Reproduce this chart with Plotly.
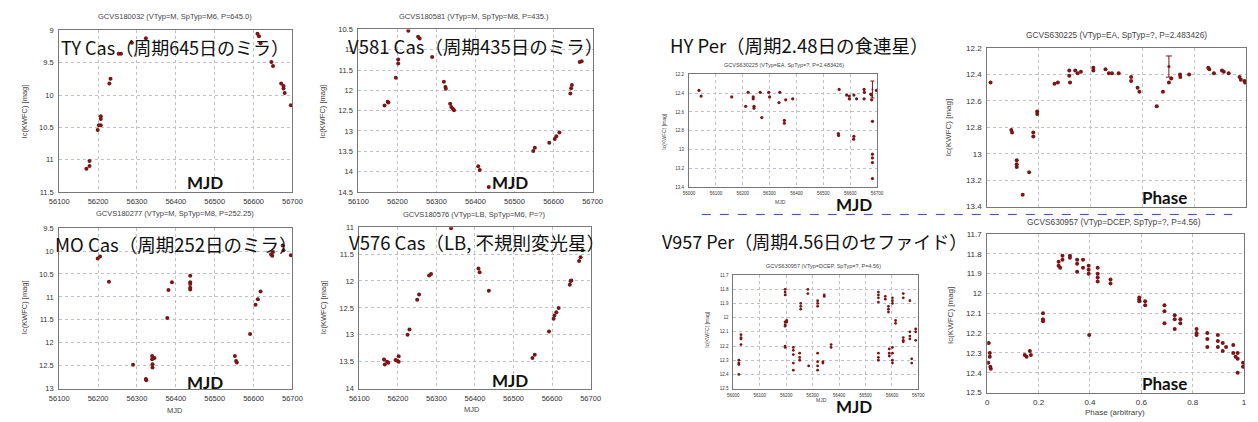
import plotly.graph_objects as go

W, H = 1258, 422

# ---------------- data ----------------
ty_cas_mjd = [56170, 56178, 56178, 56199, 56202, 56207, 56207, 56207, 56229, 56232, 56253, 56259,
              56287, 56323, 56610, 56614, 56618, 56646, 56650, 56671, 56677, 56677, 56680, 56696]
ty_cas_mag = [11.14, 11.02, 11.10, 10.54, 10.47, 10.47, 10.33, 10.37, 9.82, 9.75, 9.36, 9.36,
              9.19, 9.12, 9.05, 9.09, 9.20, 9.49, 9.55, 9.82, 9.86, 9.90, 9.97, 10.16]

v581_mjd = [56167, 56175, 56177, 56196, 56202, 56202, 56228, 56253, 56257, 56289, 56319, 56323, 56324,
            56335, 56338, 56342, 56345, 56407, 56411, 56434, 56548, 56552, 56589, 56603, 56607, 56615,
            56643, 56645, 56647, 56667, 56672]
v581_mag = [12.37, 12.28, 12.30, 11.69, 11.24, 11.34, 10.53, 10.68, 10.72, 11.18, 11.79, 11.92, 11.96,
            12.33, 12.41, 12.45, 12.49, 13.87, 13.96, 14.38, 13.49, 13.41, 13.29, 13.20, 13.13, 13.04,
            12.08, 11.95, 11.87, 11.30, 11.28]

mo_cas_mjd = [56199, 56205, 56228, 56290, 56323, 56324, 56339, 56339, 56340, 56340, 56345, 56378, 56381,
              56390, 56437, 56437, 56437, 56437, 56437, 56552, 56555, 56557, 56591, 56605, 56611, 56618,
              56645, 56648, 56650, 56675, 56677, 56696]
mo_cas_mag = [10.16, 10.12, 10.67, 12.48, 12.79, 12.82, 12.29, 12.36, 12.47, 12.54, 12.33, 11.46, 10.85,
              10.68, 10.54, 10.68, 10.72, 10.80, 10.84, 12.29, 12.40, 12.43, 11.81, 11.17, 11.05, 10.88,
              10.07, 10.10, 10.02, 9.88, 9.98, 10.09]

v576_mjd = [56164, 56166, 56172, 56175, 56194, 56198, 56202, 56202, 56225, 56230, 56250, 56255, 56281,
            56286, 56338, 56409, 56412, 56436, 56549, 56555, 56592, 56604, 56606, 56611, 56617, 56646,
            56648, 56650, 56670, 56674, 56679]
v576_mag = [13.46, 13.55, 13.50, 13.52, 13.47, 13.48, 13.40, 13.50, 13.00, 12.90, 12.35, 12.25, 11.90,
            11.87, 11.02, 11.77, 11.84, 12.18, 13.43, 13.37, 12.94, 12.70, 12.64, 12.58, 12.50, 12.07,
            12.00, 11.99, 11.63, 11.56, 11.43]

hy_per_mjd = [56037, 56045, 56159, 56211, 56220, 56239, 56239, 56242, 56242, 56265, 56271, 56297, 56300,
              56335, 56338, 56355, 56355, 56360, 56386, 56559, 56556, 56557, 56587, 56597, 56597, 56614,
              56614, 56613, 56624, 56652, 56653, 56652, 56677, 56680, 56680, 56683, 56683, 56683, 56683,
              56683, 56698]
hy_per_mag = [12.37, 12.43, 12.44, 12.54, 12.39, 12.44, 12.46, 12.54, 12.56, 12.39, 12.66, 12.39, 12.44,
              12.50, 12.39, 12.69, 12.72, 12.47, 12.46, 12.36, 12.83, 12.85, 12.42, 12.43, 12.46, 12.42,
              12.86, 12.89, 12.46, 12.36, 12.39, 12.46, 12.41, 12.42, 12.47, 12.70, 13.05, 13.09, 13.14,
              13.31, 12.37]
hy_per_err_mjd = [56683]
hy_per_err_mag = [12.36]
hy_per_err_val = [0.09]

hy_per_phase = [0.013, 0.093, 0.096, 0.114, 0.114, 0.114, 0.137, 0.162, 0.178, 0.178, 0.193, 0.193,
                0.260, 0.273, 0.317, 0.317, 0.320, 0.340, 0.349, 0.362, 0.410, 0.410, 0.457, 0.470,
                0.482, 0.508, 0.556, 0.556, 0.581, 0.588, 0.655, 0.679, 0.702, 0.711, 0.745, 0.746,
                0.780, 0.854, 0.858, 0.876, 0.907, 0.914, 0.933, 0.975, 0.980, 0.994, 0.996]
hy_per_phase_mag = [12.46, 12.82, 12.84, 13.05, 13.08, 13.10, 13.31, 13.14, 12.84, 12.87, 12.70, 12.68,
                    12.47, 12.46, 12.37, 12.41, 12.46, 12.37, 12.39, 12.38, 12.35, 12.37, 12.36, 12.39,
                    12.39, 12.39, 12.42, 12.45, 12.50, 12.53, 12.64, 12.53, 12.46, 12.43, 12.40, 12.42,
                    12.40, 12.35, 12.36, 12.39, 12.37, 12.38, 12.39, 12.42, 12.44, 12.45, 12.46]
hy_per_phase_err_x = [0.702]
hy_per_phase_err_mag = [12.34]
hy_per_phase_err_val = [0.08]

v957_mjd = [56021, 56021, 56021, 56021, 56029, 56029, 56029, 56029,
            56196, 56196, 56196, 56196, 56196, 56196, 56196, 56196, 56202, 56202,
            56227, 56227, 56227, 56227, 56227, 56251, 56251, 56251, 56255, 56255, 56255,
            56282, 56282, 56285, 56319, 56319, 56319, 56319, 56319, 56319, 56319,
            56339, 56339, 56344, 56344, 56370, 56370,
            56549, 56549, 56549, 56549, 56549, 56549, 56549, 56575, 56575, 56587, 56587, 56587,
            56590, 56590, 56590, 56602, 56602, 56602, 56602, 56602, 56602, 56602, 56614, 56614,
            56643, 56643, 56643, 56643, 56643, 56668, 56668, 56668, 56668, 56675, 56675,
            56690, 56690, 56690]
v957_mag = [12.30, 12.32, 12.33, 12.40, 12.12, 12.14, 12.15, 12.19,
            11.80, 11.82, 11.84, 12.03, 12.05, 12.06, 12.20, 12.21, 12.02, 12.03,
            12.21, 12.23, 12.26, 12.32, 12.37, 12.25, 12.28, 12.30, 11.90, 11.92, 11.94,
            11.80, 11.83, 12.34, 11.88, 11.90, 11.92, 12.25, 12.31, 12.34, 12.37,
            12.31, 12.32, 11.84, 11.85, 12.19, 12.21,
            11.82, 11.84, 11.86, 11.89, 12.25, 12.28, 12.30, 11.85, 11.87, 11.92, 11.94, 11.96,
            12.22, 12.25, 12.27, 11.86, 11.88, 11.90, 12.21, 12.25, 12.30, 12.32, 12.02, 12.04,
            11.83, 11.86, 12.14, 12.16, 12.17, 11.88, 12.10, 12.13, 12.15, 12.29, 12.32,
            12.08, 12.10, 12.16]

v957_phase = [0.004, 0.006, 0.010, 0.010, 0.012, 0.014, 0.146, 0.153, 0.166, 0.170,
              0.217, 0.217, 0.217, 0.278, 0.278, 0.284, 0.293, 0.293, 0.322, 0.322,
              0.350, 0.350, 0.350, 0.373, 0.373, 0.395, 0.395, 0.395, 0.397,
              0.430, 0.430, 0.430, 0.430, 0.480, 0.480, 0.592, 0.592, 0.592, 0.615, 0.615,
              0.690, 0.690, 0.690, 0.730, 0.730, 0.730, 0.752, 0.752, 0.815, 0.815, 0.815,
              0.857, 0.857, 0.857, 0.898, 0.898, 0.898, 0.917, 0.917, 0.930,
              0.958, 0.958, 0.967, 0.975, 0.975, 0.975, 0.996, 0.996]
v957_phase_mag = [12.35, 12.25, 12.30, 12.32, 12.37, 12.38, 12.31, 12.32, 12.29, 12.31,
                  12.10, 12.13, 12.14, 11.84, 11.86, 11.87, 11.83, 11.81, 11.81, 11.82,
                  11.83, 11.85, 11.89, 11.83, 11.87, 11.86, 11.88, 11.90, 12.21,
                  11.87, 11.90, 11.92, 11.94, 11.93, 11.95, 12.02, 12.03, 12.04, 12.04, 12.06,
                  12.06, 12.09, 12.15, 12.11, 12.13, 12.18, 12.13, 12.15, 12.18, 12.20, 12.21,
                  12.20, 12.23, 12.27, 12.21, 12.24, 12.27, 12.25, 12.29, 12.27,
                  12.26, 12.30, 12.32, 12.30, 12.33, 12.40, 12.35, 12.37]

titles = ["GCVS180032 (VTyp=M, SpTyp=M6, P=645.0)",
          "GCVS180581 (VTyp=M, SpTyp=M8, P=435.)",
          "GCVS180277 (VTyp=M, SpTyp=M8, P=252.25)",
          "GCVS180576 (VTyp=LB, SpTyp=M6, P=?)",
          "GCVS630225 (VTyp=EA, SpTyp=?, P=2.483426)",
          "GCVS630225 (VTyp=EA, SpTyp=?, P=2.483426)",
          "GCVS630957 (VTyp=DCEP, SpTyp=?, P=4.56)",
          "GCVS630957 (VTyp=DCEP, SpTyp=?, P=4.56)"]
labels_jp = ["TY Cas（周期645日のミラ）", "V581 Cas（周期435日のミラ）",
             "MO Cas（周期252日のミラ）", "V576 Cas（LB, 不規則変光星）",
             "HY Per（周期2.48日の食連星）", "V957 Per（周期4.56日のセファイド）"]
ylabel = "Ic(KWFC) [mag]"

# ---------------- figure ----------------
RED = "#7a1616"
GRID = "#c0c0c8"
TICK = "#333333"
FONT = "Liberation Sans"
JP = "Noto Sans CJK JP"

fig = go.Figure()

def px_x(a, b):
    return [a / W, b / W]

def px_y(top, bottom):
    return [1 - bottom / H, 1 - top / H]

panels = [
    (ty_cas_mjd, ty_cas_mag, (50, 287, 27, 192), [56100, 56700], [11.5, 9], 100, 0.5, 7.5, 4, True),
    (v581_mjd, v581_mag, (354, 592, 26, 192), [56100, 56700], [14.5, 10.5], 100, 0.5, 7.5, 4, True),
    (mo_cas_mjd, mo_cas_mag, (50, 287, 229, 393), [56100, 56700], [13, 9.5], 100, 0.5, 7.5, 4, True),
    (v576_mjd, v576_mag, (355, 590, 228, 393), [56100, 56700], [14, 11], 100, 0.5, 7.5, 4, True),
    (hy_per_mjd, hy_per_mag, (690, 881, 72, 187), [56000, 56700], [13.4, 12.2], 100, 0.2, 4.5, 3.2, True),
    (hy_per_phase, hy_per_phase_mag, (993, 1256, 45, 207), [0, 1], [13.4, 12.2], 0.2, 0.2, 8, 4, False),
    (v957_mjd, v957_mag, (735, 923, 277, 393), [56000, 56700], [12.5, 11.7], 100, 0.1, 4.5, 2.8, True),
    (v957_phase, v957_phase_mag, (993, 1254, 235, 397), [0, 1], [12.5, 11.7], 0.2, 0.1, 8, 4, True),
]

layout = dict(width=W, height=H, margin=dict(l=0, r=0, t=0, b=0),
              paper_bgcolor="white", plot_bgcolor="white", showlegend=False)

for i, (xs, ys, box, xr, yr, xdt, ydt, tfs, ms, showx) in enumerate(panels):
    n = "" if i == 0 else str(i + 1)
    fig.add_trace(go.Scatter(x=xs, y=ys, mode="markers",
                             marker=dict(color=RED, size=ms, symbol="circle"),
                             xaxis="x" + n, yaxis="y" + n, hoverinfo="skip"))
    x0, x1, top, bottom = box
    common = dict(showline=True, mirror=True, linecolor="#777777", linewidth=1,
                  showgrid=True, gridcolor=GRID, griddash="dot", gridwidth=1,
                  zeroline=False, ticks="", ticklen=0,
                  tickfont=dict(family=FONT, size=tfs, color=TICK))
    layout["xaxis" + n] = dict(domain=px_x(x0, x1), range=xr, dtick=xdt, tick0=xr[0],
                               tickformat="d" if xdt == 100 else None,
                               anchor="y" + n, showticklabels=showx, ticklabelstandoff=2, **common)
    layout["yaxis" + n] = dict(domain=px_y(top, bottom), range=yr, dtick=ydt, tick0=0,
                               anchor="x" + n, ticklabelstandoff=3, **common)

# error-bar points
fig.add_trace(go.Scatter(x=hy_per_err_mjd, y=hy_per_err_mag, mode="markers",
                         marker=dict(color=RED, size=2),
                         error_y=dict(type="data", array=hy_per_err_val, color=RED, thickness=1, width=2),
                         xaxis="x5", yaxis="y5", hoverinfo="skip"))
fig.add_trace(go.Scatter(x=hy_per_phase_err_x, y=hy_per_phase_err_mag, mode="markers",
                         marker=dict(color=RED, size=3),
                         error_y=dict(type="data", array=hy_per_phase_err_val, color=RED, thickness=1, width=3),
                         xaxis="x6", yaxis="y6", hoverinfo="skip"))

fig.update_layout(**layout)

ann = []
def add_text(text, x, y, size, family=FONT, color="#444444", angle=0, bold=False):
    if bold:
        text = "<b>" + text + "</b>"
    ann.append(dict(text=text, x=x / W, y=1 - y / H, xref="paper", yref="paper",
                    xanchor="center", yanchor="middle", showarrow=False, textangle=angle,
                    font=dict(family=family, size=size, color=color)))

# subplot titles
title_pos = [(168, 13, 7.5), (472, 13, 7.5), (168, 214, 7.5), (471, 215, 7.5),
             (787, 62, 5.5), (1124, 32, 8.3), (827, 268, 5.5), (1122, 223, 8.3)]
for t, (x, y, s) in zip(titles, title_pos):
    add_text(t, x, y, s)

# y axis titles
for (x, y, s) in [(15, 110, 7.5), (318, 110, 7.5), (15, 310, 7.5), (318, 310, 7.5),
                  (665, 130, 5), (953, 126, 8), (708, 333, 5), (955, 318, 8)]:
    add_text(ylabel, x, y, s, angle=-90)

# x axis titles
for (t, x, y, s) in [("MJD", 168, 415, 7.5), ("MJD", 469, 414, 7.5), ("MJD", 783, 202, 5),
                     ("MJD", 825, 405, 5), ("Phase (arbitrary)", 1123, 417, 8)]:
    add_text(t, x, y, s)

# big Japanese labels (centred)
jp_pos = [(168, 44, 18), (473, 43, 18.5), (169, 245, 18.5), (475, 243, 18.5), (802, 42, 18.5), (818, 242, 18)]
for t, (x, y, s) in zip(labels_jp, jp_pos):
    add_text(t, x, y, s, family=JP, color="#111111")

# bold MJD / Phase labels
for (t, x, y) in [("MJD", 198, 182), ("MJD", 508, 182), ("MJD", 198, 387), ("MJD", 508, 385),
                  ("MJD", 858, 205), ("Phase", 1173, 198), ("MJD", 858, 411), ("Phase", 1173, 388)]:
    add_text(t, x, y, 17, family="Lato", color="#111111", bold=True)

fig.update_layout(annotations=ann)

fig.add_shape(type="line", xref="paper", yref="paper", x0=703 / W, x1=1242 / W,
              y0=1 - 215 / H, y1=1 - 215 / H, line=dict(color="#2f4f9f", width=1, dash="dash"))

fig.write_html("out.html", config={"displayModeBar": False},
               post_script="document.body.style.margin='0';document.body.style.overflow='hidden';")
